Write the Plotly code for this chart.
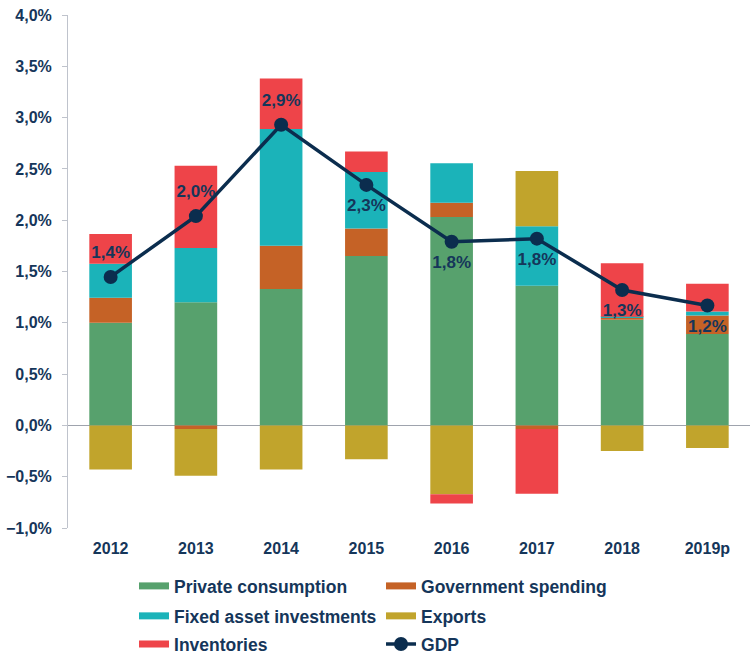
import plotly.graph_objects as go

years = ["2012", "2013", "2014", "2015", "2016", "2017", "2018", "2019p"]
private_consumption = [1.00, 1.20, 1.33, 1.65, 2.03, 1.36, 1.03, 0.89]
government_spending = [0.245, -0.035, 0.42, 0.27, 0.14, -0.035, 0.02, 0.18]
fixed_investments = [0.33, 0.53, 1.14, 0.55, 0.385, 0.58, 0.01, 0.04]
exports = [-0.43, -0.455, -0.43, -0.33, -0.67, 0.54, -0.25, -0.22]
inventories = [0.29, 0.80, 0.49, 0.20, -0.09, -0.63, 0.52, 0.27]
gdp = [1.447, 2.04, 2.93, 2.344, 1.79, 1.82, 1.32, 1.168]
gdp_label_pos = ["top center", "top center", "top center", "bottom center",
                 "bottom center", "bottom center", "bottom center", "bottom center"]

navy = "#15365A"
gdp_color = "#0B2D4E"
font_family = "Liberation Sans, Arial, sans-serif"

series = [
    ("Private consumption", private_consumption, "#57A16D", "legend"),
    ("Government spending", government_spending, "#C56226", "legend"),
    ("Fixed asset investments", fixed_investments, "#1BB3B9", "legend2"),
    ("Exports", exports, "#C1A42C", "legend2"),
    ("Inventories", inventories, "#EE4449", "legend3"),
]

fig = go.Figure()
for name, vals, color, lg in series:
    fig.add_trace(go.Bar(x=years, y=vals, name=name, showlegend=False,
                         marker=dict(color=color, line=dict(width=0))))

# legend-only swatches (wide rectangles as in the reference)
for name, vals, color, lg in series:
    fig.add_trace(go.Scatter(x=[None], y=[None], name=name, mode="lines",
                             line=dict(color=color, width=7), legend=lg))

fig.add_trace(go.Scatter(
    x=years, y=gdp, name="GDP", mode="lines+markers", legend="legend3",
    line=dict(color=gdp_color, width=3.5),
    marker=dict(color=gdp_color, size=14, line=dict(width=0)),
))

# GDP value labels (transparent markers give the label offset)
label_sizes = [22 if p.startswith("top") else 20 for p in gdp_label_pos]
fig.add_trace(go.Scatter(
    x=years, y=gdp, mode="markers+text", showlegend=False, hoverinfo="skip",
    marker=dict(color="rgba(0,0,0,0)", size=label_sizes, line=dict(width=0)),
    texttemplate="%{y:.1f}%", textposition=gdp_label_pos,
    textfont=dict(color=navy, size=17, family=font_family, weight="bold"),
))

legend_common = dict(
    orientation="h", x=0.0968, xanchor="left", yanchor="middle",
    entrywidth=202, entrywidthmode="pixels",
    font=dict(size=17.5, color=navy, family=font_family, weight="bold"),
    bgcolor="rgba(0,0,0,0)", traceorder="normal",
)

fig.update_layout(
    width=751, height=654,
    margin=dict(l=68, r=1, t=15, b=126, autoexpand=False),
    barmode="relative", bargap=0.5,
    separators=",.",
    plot_bgcolor="white", paper_bgcolor="white",
    font=dict(family=font_family, color=navy, size=16, weight="bold"),
    showlegend=True,
    legend=dict(legend_common, y=-0.1131),
    legend2=dict(legend_common, y=-0.1715),
    legend3=dict(legend_common, y=-0.2265),
    xaxis=dict(
        range=[-0.5, 7.5],
        showline=False, ticks="", showgrid=False, ticklabelstandoff=9,
        tickfont=dict(size=16, color=navy, family=font_family, weight="bold"),
    ),
    xaxis2=dict(
        overlaying="x", anchor="free", position=0.2, type="category",
        categoryarray=years, range=[-0.5, 7.5], tickmode="array", tickvals=years,
        tickson="boundaries", ticks="outside", ticklen=5, tickcolor="#9EA3AD",
        showticklabels=False, showline=False, showgrid=False, zeroline=False,
    ),
    yaxis=dict(
        range=[-1.0, 4.0], dtick=0.5, tickformat=".1f", ticksuffix="%",
        showgrid=False, showline=True, linecolor="#BFC3CC", linewidth=1,
        ticks="outside", tickcolor="#BFC3CC", ticklen=5, ticklabelstandoff=7,
        zeroline=True, zerolinecolor="#9EA3AD", zerolinewidth=1,
        tickfont=dict(size=16, color=navy, family=font_family, weight="bold"),
    ),
)

fig.write_html("out.html", config={"displayModeBar": False},
               post_script="document.body.style.margin='0';document.body.style.overflow='hidden';")
